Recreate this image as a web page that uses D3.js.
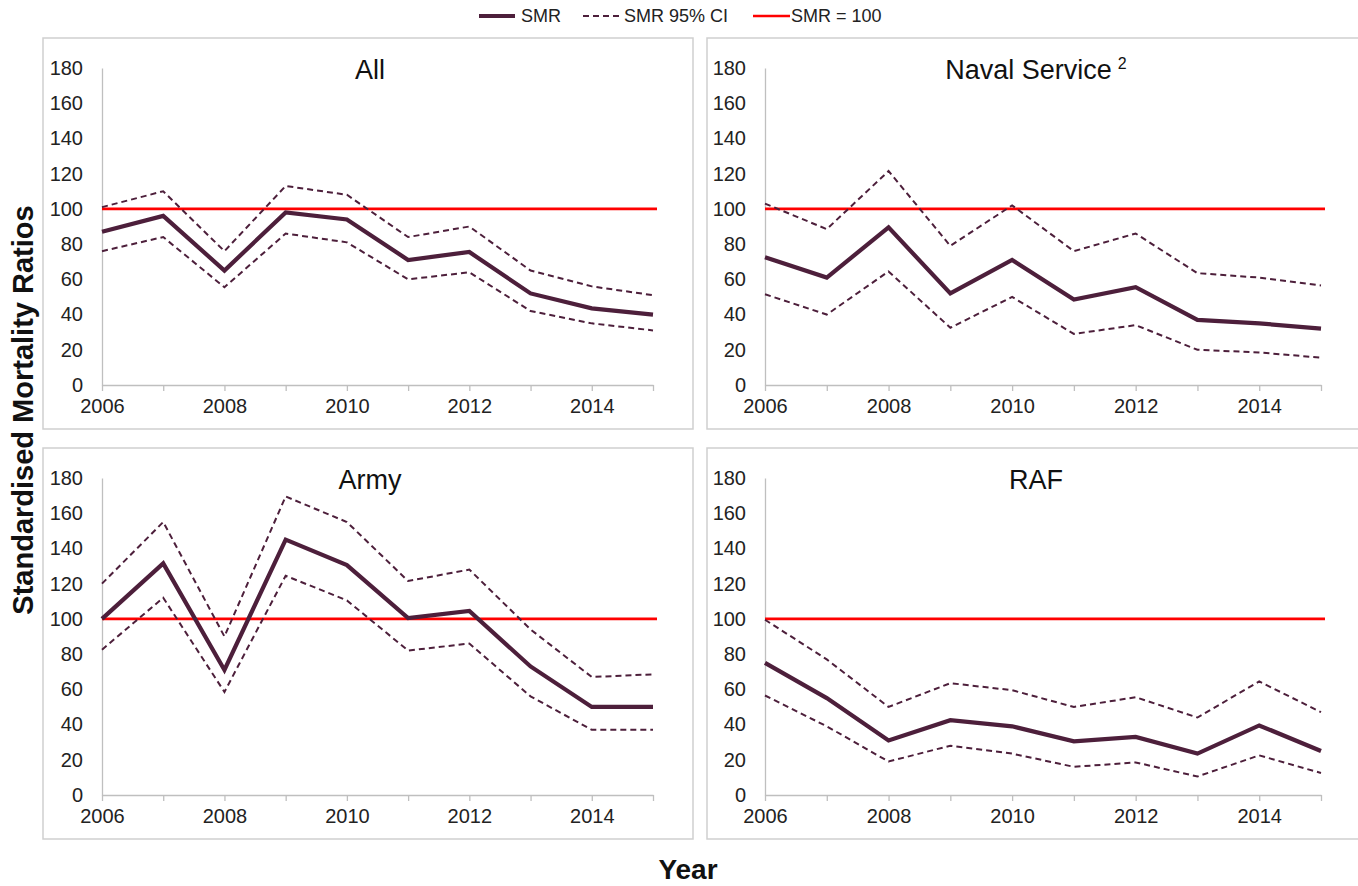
<!DOCTYPE html>
<html>
<head>
<meta charset="utf-8">
<script src="https://cdn.jsdelivr.net/npm/d3@7"></script>
<style>
  html, body { margin: 0; padding: 0; background: #fff; }
  svg { display: block; font-family: "Liberation Sans", Arial, sans-serif; }
</style>
</head>
<body>
<svg id="chart" width="1358" height="886"></svg>
<script>
// ---------------- data ----------------
const years = [2006, 2007, 2008, 2009, 2010, 2011, 2012, 2013, 2014, 2015];
const xTickLabels = [2006, 2008, 2010, 2012, 2014];
const yTicks = [0, 20, 40, 60, 80, 100, 120, 140, 160, 180];
const panelTitles = ["All", "Naval Service", "Army", "RAF"];
const panelSup = ["", "2", "", ""];
const referenceValue = 100;

const smrAll   = [87, 96, 65, 98, 94, 71, 75.5, 52, 43.5, 40];
const upperAll = [101, 110, 76, 113, 108, 84, 90, 65, 56, 51];
const lowerAll = [76, 84, 55.5, 86, 81, 60, 64, 42, 35, 31];

const smrNaval   = [72.5, 61, 89.5, 52, 71, 48.5, 55.5, 37, 35, 32];
const upperNaval = [103, 88.5, 121.5, 79, 102, 76, 86, 63.5, 61, 56.5];
const lowerNaval = [51.5, 40, 64.5, 32.5, 50, 29, 34, 20, 18.5, 15.5];

const smrArmy   = [100, 131.5, 71, 145, 130.5, 100.5, 104.5, 73, 50, 50];
const upperArmy = [120, 155, 90, 169.5, 155, 121.5, 128, 94, 67, 68.5];
const lowerArmy = [82.5, 112, 58.5, 124.5, 110.5, 82, 86, 56, 37, 37];

const smrRAF   = [75, 55, 31, 42.5, 39, 30.5, 33, 23.5, 39.5, 25];
const upperRAF = [99.5, 77, 50, 63.5, 59.5, 50, 55.5, 44, 64.5, 47];
const lowerRAF = [56.5, 39, 19, 28, 23.5, 16, 18.5, 10.5, 22.5, 12.5];

const panelSeries = [
  [smrAll, upperAll, lowerAll],
  [smrNaval, upperNaval, lowerNaval],
  [smrArmy, upperArmy, lowerArmy],
  [smrRAF, upperRAF, lowerRAF]
];

// ---------------- layout ----------------
const svg = d3.select("#chart");
const smrColor = "#4d1f3b";
const refColor = "#ff0000";
const axisColor = "#bfbfbf";
const borderColor = "#cfcfcf";

const cols = [
  { boxX: 43, boxW: 650, plotX0: 102, plotX1: 653, titleX: 370 },
  { boxX: 707, boxW: 660, plotX0: 765, plotX1: 1321, titleX: 1036 }
];
const rows = [
  { boxY: 38, boxH: 391, plotY0: 68, plotY1: 385 },
  { boxY: 448, boxH: 391, plotY0: 478, plotY1: 795 }
];

panelTitles.forEach((title, i) => {
  const c = cols[i % 2], r = rows[Math.floor(i / 2)];
  const [smr, upper, lower] = panelSeries[i];

  svg.append("rect")
    .attr("x", c.boxX).attr("y", r.boxY)
    .attr("width", c.boxW).attr("height", r.boxH)
    .attr("fill", "none").attr("stroke", borderColor).attr("stroke-width", 1.5);

  const x = d3.scaleLinear().domain([years[0], years[years.length - 1]]).range([c.plotX0, c.plotX1]);
  const y = d3.scaleLinear().domain([0, 180]).range([r.plotY1, r.plotY0]);

  const g = svg.append("g");

  // y axis
  const yAxis = g.append("g")
    .attr("transform", `translate(${c.plotX0},0)`)
    .call(d3.axisLeft(y).tickValues(yTicks).tickSize(0).tickPadding(19).tickFormat(d3.format("d")));
  yAxis.select(".domain").attr("stroke", axisColor).attr("stroke-width", 1.3);
  yAxis.selectAll("text").attr("font-size", 20).attr("fill", "#222")
    .attr("font-family", "'Liberation Sans', Arial, sans-serif");

  // x axis
  const xAxis = g.append("g")
    .attr("transform", `translate(0,${r.plotY1})`)
    .call(d3.axisBottom(x).tickValues(years).tickSizeInner(6).tickSizeOuter(0).tickPadding(8)
      .tickFormat(d => xTickLabels.includes(d) ? String(d) : ""));
  xAxis.select(".domain").attr("stroke", axisColor).attr("stroke-width", 1.3);
  xAxis.selectAll(".tick line").attr("stroke", axisColor).attr("stroke-width", 1.3);
  xAxis.selectAll("text").attr("font-size", 20).attr("fill", "#222")
    .attr("font-family", "'Liberation Sans', Arial, sans-serif");

  // reference line
  g.append("line")
    .attr("x1", x(years[0])).attr("x2", x(years[years.length - 1]) + 4)
    .attr("y1", y(referenceValue)).attr("y2", y(referenceValue))
    .attr("stroke", refColor).attr("stroke-width", 2.6);

  const line = d3.line().x((d, k) => x(years[k])).y(d => y(d));

  [upper, lower].forEach(s => {
    g.append("path").datum(s).attr("d", line)
      .attr("fill", "none").attr("stroke", smrColor).attr("stroke-width", 2)
      .attr("stroke-dasharray", "6,4");
  });
  g.append("path").datum(smr).attr("d", line)
    .attr("fill", "none").attr("stroke", smrColor).attr("stroke-width", 4.2)
    .attr("stroke-linejoin", "miter");

  // title
  const t = svg.append("text")
    .attr("x", c.titleX).attr("y", r.plotY0 + 11)
    .attr("text-anchor", "middle").attr("font-size", 27).attr("fill", "#111")
    .text(title);
  if (panelSup[i]) {
    t.append("tspan").attr("font-size", 16).attr("dy", -10).attr("dx", 6).text(panelSup[i]);
  }
});

// ---------------- legend ----------------
const legendItems = [
  { label: "SMR", x1: 479, x2: 515, tx: 521, color: smrColor, width: 4, dash: null },
  { label: "SMR 95% CI", x1: 583, x2: 623, tx: 624, color: smrColor, width: 2, dash: "6,4" },
  { label: "SMR = 100", x1: 753, x2: 790, tx: 791, color: refColor, width: 2.6, dash: null }
];
const leg = svg.append("g");
legendItems.forEach(it => {
  leg.append("line").attr("x1", it.x1).attr("x2", it.x2).attr("y1", 16).attr("y2", 16)
    .attr("stroke", it.color).attr("stroke-width", it.width)
    .attr("stroke-dasharray", it.dash);
  leg.append("text").attr("x", it.tx).attr("y", 22).attr("font-size", 18).attr("fill", "#222").text(it.label);
});

// ---------------- axis titles ----------------
svg.append("text")
  .attr("transform", "translate(33,410) rotate(-90)")
  .attr("text-anchor", "middle").attr("font-size", 29).attr("font-weight", "bold").attr("fill", "#111")
  .text("Standardised Mortality Ratios");

svg.append("text")
  .attr("x", 688).attr("y", 879)
  .attr("text-anchor", "middle").attr("font-size", 28).attr("font-weight", "bold").attr("fill", "#111")
  .text("Year");
</script>
</body>
</html>
